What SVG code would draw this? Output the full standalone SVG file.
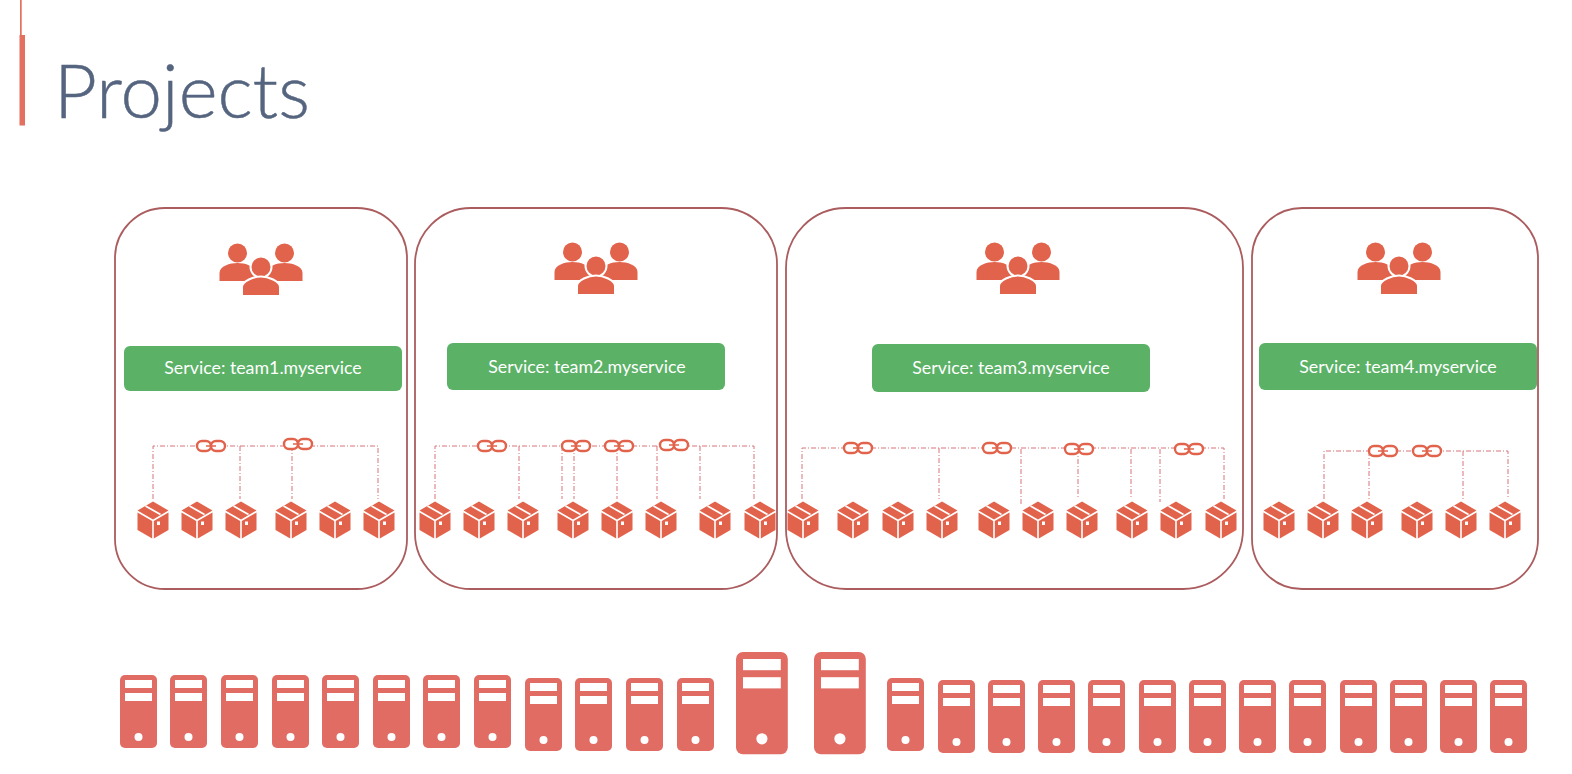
<svg xmlns="http://www.w3.org/2000/svg" xmlns:xlink="http://www.w3.org/1999/xlink" width="1572" height="774" viewBox="0 0 1572 774">
<style>
.team{fill:#fff;stroke:#ab5c5e;stroke-width:1.8}
.svc{fill:#5bb166}
.svct{fill:#fff;font-family:"Lato","Liberation Sans",sans-serif;font-size:17.800px;text-anchor:middle}
.conn{fill:none;stroke:#d8727a;stroke-width:1;stroke-dasharray:5 2 1 2}
.red{fill:#e2634c}
.srv{fill:#e06c64}
</style>
<defs>
<g id="users">
<circle class="red" cx="-23.500" cy="-13" r="9.500"/><circle class="red" cx="23.500" cy="-13" r="9.500"/>
<path class="red" d="M-41.500 15V7C-41.500 0-31-3-23.500-3C-16-3-5.500 0-5.500 7V15Z"/>
<path class="red" d="M41.500 15V7C41.500 0 31-3 23.500-3C16-3 5.500 0 5.500 7V15Z"/>
<circle class="red" cx="0" cy="1" r="10.500" stroke="#fff" stroke-width="2"/>
<path class="red" stroke="#fff" stroke-width="2" d="M-19 30V21C-19 15-7 10.500 0 10.500C7 10.500 19 15 19 21V30Z"/>
</g>
<g id="box">
<path class="red" d="M0-18.500L15.500-9.500L0-.5L-15.500-9.500Z"/>
<path class="red" d="M-15.500-7.500L-.8 1V18.500L-15.500 10Z"/>
<path class="red" d="M.8 1L15.500-7.500V10L.8 18.500Z"/>
<path d="M-7.500-14L7.500-5.500" stroke="#fff" stroke-width="1.800" fill="none"/>
<rect x="4" y="1.500" width="3" height="3.500" fill="#fff"/>
</g>
<g id="chain" fill="#fff" stroke="#e2634c" stroke-width="2.400">
<rect x="-14" y="-5" width="14" height="10" rx="5"/>
<rect x="0" y="-5" width="14" height="10" rx="5"/>
<path d="M-5 0H5" fill="none" stroke-width="1.500"/>
</g>
<g id="server">
<rect class="srv" width="37" height="73" rx="5"/>
<rect x="5" y="5" width="27" height="8" fill="#fff"/>
<rect x="5" y="18" width="27" height="8" fill="#fff"/>
<circle cx="18.500" cy="62" r="4" fill="#fff"/>
</g>
</defs>

<rect width="1572" height="774" fill="#fff"/>

<g id="title">
<rect x="20" y="0" width="1.700" height="36" fill="#e4705f"/>
<rect x="19.500" y="35" width="5.500" height="90.500" fill="#e4705f"/>
<text x="54" y="118" font-family="Lato,'Open Sans',sans-serif" font-weight="300" font-size="74.500" fill="#56657f" stroke="#56657f" stroke-width=".5">Projects</text>
</g>
<text id="faint-users" x="459" y="295" font-family="Lato,sans-serif" font-weight="300" font-size="32" fill="#f7f7f7">Users</text>

<g id="team1">
<rect class="team" x="115" y="208" width="292" height="381" rx="50"/>
<use href="#users" x="261" y="266"/>
<rect class="svc" x="124" y="346" width="278" height="45" rx="6"/>
<text class="svct" x="263" y="374">Service: team1.myservice</text>
</g>
<g id="team2">
<rect class="team" x="415" y="208" width="362" height="381" rx="56"/>
<use href="#users" x="596" y="265"/>
<rect class="svc" x="447" y="343" width="278" height="47" rx="6"/>
<text class="svct" x="587" y="373">Service: team2.myservice</text>
</g>
<g id="team3">
<rect class="team" x="786" y="208" width="457" height="381" rx="60"/>
<use href="#users" x="1018" y="265"/>
<rect class="svc" x="872" y="344" width="278" height="48" rx="6"/>
<text class="svct" x="1011" y="374">Service: team3.myservice</text>
</g>
<g id="team4">
<rect class="team" x="1252" y="208" width="286" height="381" rx="50"/>
<use href="#users" x="1399" y="265"/>
<rect class="svc" x="1259" y="343" width="278" height="47" rx="6"/>
<text class="svct" x="1398" y="373">Service: team4.myservice</text>
</g>

<g id="connectors">
<path class="conn" d="M153 499V446H378V499M240 446V499M292 446V499"/>
<path class="conn" d="M435 499V446H754V499M519 446V499M562 446V499M574 446V499M617 446V499M657 446V499M700 446V499"/>
<path class="conn" d="M802 499V448H1224V499M939 448V499M1021 449V505M1078 449V499M1131 449V499M1160 449V502"/>
<path class="conn" d="M1324 499V451H1508V499M1369 451V499M1463 451V499"/>
<use href="#chain" x="211" y="446"/><use href="#chain" x="298" y="444"/>
<use href="#chain" x="492" y="446"/><use href="#chain" x="576" y="446"/><use href="#chain" x="619" y="446"/><use href="#chain" x="674" y="445"/>
<use href="#chain" x="858" y="448"/><use href="#chain" x="997" y="448"/><use href="#chain" x="1079" y="449"/><use href="#chain" x="1189" y="449"/>
<use href="#chain" x="1383" y="451"/><use href="#chain" x="1427" y="451"/>
</g>

<g id="pods">
<use href="#box" x="153" y="520"/><use href="#box" x="197" y="520"/><use href="#box" x="241" y="520"/><use href="#box" x="291" y="520"/><use href="#box" x="335" y="520"/><use href="#box" x="379" y="520"/>
<use href="#box" x="435" y="520"/><use href="#box" x="479" y="520"/><use href="#box" x="523" y="520"/><use href="#box" x="573" y="520"/><use href="#box" x="617" y="520"/><use href="#box" x="661" y="520"/><use href="#box" x="715" y="520"/><use href="#box" x="760" y="520"/>
<use href="#box" x="803" y="520"/><use href="#box" x="853" y="520"/><use href="#box" x="898" y="520"/><use href="#box" x="942" y="520"/><use href="#box" x="994" y="520"/><use href="#box" x="1038" y="520"/><use href="#box" x="1082" y="520"/><use href="#box" x="1132" y="520"/><use href="#box" x="1176" y="520"/><use href="#box" x="1221" y="520"/>
<use href="#box" x="1279" y="520"/><use href="#box" x="1323" y="520"/><use href="#box" x="1367" y="520"/><use href="#box" x="1417" y="520"/><use href="#box" x="1461" y="520"/><use href="#box" x="1505" y="520"/>
</g>

<g id="servers">
<use href="#server" x="120" y="675"/><use href="#server" x="170" y="675"/><use href="#server" x="221" y="675"/><use href="#server" x="272" y="675"/><use href="#server" x="322" y="675"/><use href="#server" x="373" y="675"/><use href="#server" x="423" y="675"/><use href="#server" x="474" y="675"/>
<use href="#server" x="525" y="678"/><use href="#server" x="575" y="678"/><use href="#server" x="626" y="678"/><use href="#server" x="677" y="678"/>
<use href="#server" transform="translate(736 652) scale(1.400)"/><use href="#server" transform="translate(814 652) scale(1.400)"/>
<use href="#server" x="887" y="678"/>
<use href="#server" x="938" y="680"/><use href="#server" x="988" y="680"/><use href="#server" x="1038" y="680"/><use href="#server" x="1088" y="680"/><use href="#server" x="1139" y="680"/><use href="#server" x="1189" y="680"/><use href="#server" x="1239" y="680"/><use href="#server" x="1289" y="680"/><use href="#server" x="1340" y="680"/><use href="#server" x="1390" y="680"/><use href="#server" x="1440" y="680"/><use href="#server" x="1490" y="680"/>
</g>
</svg>
